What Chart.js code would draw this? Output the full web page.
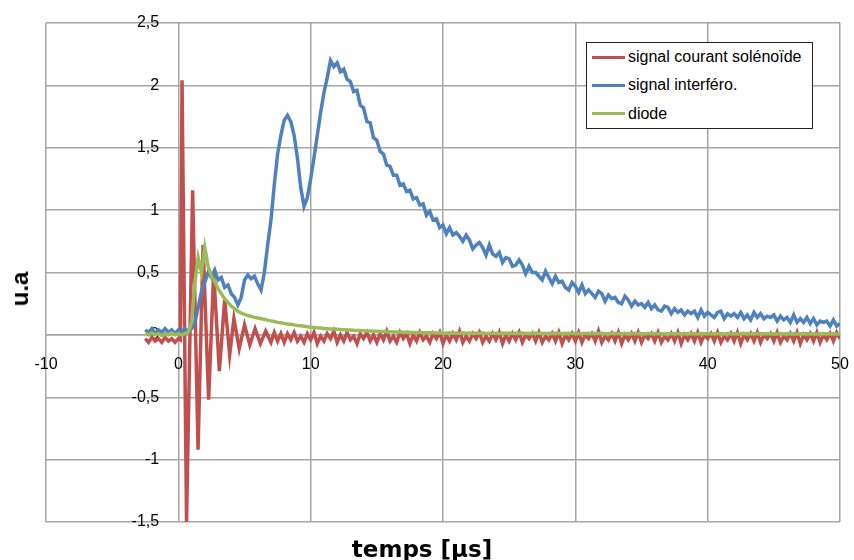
<!DOCTYPE html>
<html>
<head>
<meta charset="utf-8">
<script src="https://cdn.jsdelivr.net/npm/chart.js@4"></script>
<style>
  body { margin: 0; background: #fff; }
  #wrap { position: relative; width: 854px; height: 560px; font-family: "Liberation Sans", Arial, sans-serif; color: #000; }
  #legend { position: absolute; left: 586px; top: 42px; width: 227px; height: 87px; box-sizing: border-box;
            border: 1px solid #222; background: #fff; }
  .row { height: 28.3px; display: flex; align-items: center; font-size: 16px; white-space: nowrap; }
  .swatch { width: 33px; height: 3px; margin-left: 5px; margin-right: 3px; }
  #ytitle { position: absolute; left: 20px; top: 289px; transform: translate(-50%, -50%) rotate(-90deg);
            font-weight: bold; font-size: 24px; }
  #xtitle { position: absolute; left: 422px; top: 549px; transform: translate(-50%, -50%);
            font-family: "DejaVu Sans", sans-serif; font-weight: bold; font-size: 23px; white-space: nowrap; }
</style>
</head>
<body>
<div id="wrap">
  <canvas id="chart" width="854" height="560"></canvas>
  <div id="legend"></div>
  <div id="ytitle">u.a</div>
  <div id="xtitle">temps [μs]</div>
</div>
<script>
// séries (temps en µs, amplitude en u.a)
const seriesNames = ['signal courant solénoïde', 'signal interféro.', 'diode'];
const seriesColors = ['#C0504D', '#4F81BD', '#9BBB59'];

const xTicks = [-10, 0, 10, 20, 30, 40, 50];
const yTicks = [-1.5, -1, -0.5, 0, 0.5, 1, 1.5, 2, 2.5];

// échantillonnage : départ et pas (µs)
const gridStart = -2.5, gridStep = 0.25;
const redTailStart = 7.25;

// courant solénoïde : oscillation amortie au début
const redBurstT = [-2.5, -2.25, -2.0, -1.75, -1.5, -1.25, -1.0, -0.75, -0.5, -0.25, 0.0, 0.15,
  0.28, 0.62, 1.08, 1.49, 1.87, 2.29, 2.67, 3.1, 3.5, 3.88, 4.2, 4.6, 5.0, 5.4, 5.8, 6.2, 6.6, 7.0];
const redBurstV = [-0.03, -0.06, -0.02, -0.05, -0.03, -0.06, -0.02, -0.05, -0.03, -0.06, -0.03, -0.04,
  2.04, -1.5, 1.16, -0.92, 0.72, -0.52, 0.5, -0.29, 0.28, -0.16, 0.13, -0.11, 0.08, -0.08, 0.05, -0.07, 0.03, -0.06];
// puis bruit autour de zéro (pas 0.25 à partir de 7.25)
const redTailV = [
  0.02, -0.05, 0.01,
  -0.06, 0.01, -0.04, 0.02,   -0.05, -0.01, -0.06, 0.01,  -0.04, 0.02, -0.07, -0.01,  -0.05, 0.01, -0.03, 0.03,
  -0.06, 0.0, -0.05, 0.02,    -0.04, -0.01, -0.07, 0.01,  -0.03, 0.02, -0.05, 0.0,    -0.06, 0.01, -0.04, 0.03,
  -0.05, -0.01, -0.06, 0.02,  -0.03, 0.01, -0.07, 0.0,    -0.05, 0.02, -0.04, -0.01,  -0.06, 0.01, -0.03, 0.02,
  -0.07, 0.0, -0.05, 0.01,    -0.04, 0.03, -0.06, -0.01,  -0.05, 0.01, -0.03, 0.02,   -0.06, -0.01, -0.05, 0.01,
  -0.04, 0.02, -0.07, 0.0,    -0.05, 0.01, -0.04, 0.02,   -0.06, 0.0, -0.03, 0.01,    -0.05, 0.02, -0.06, -0.01,
  -0.04, 0.01, -0.05, 0.02,   -0.07, 0.0, -0.04, 0.01,    -0.05, 0.02, -0.06, 0.0,    -0.03, 0.01, -0.05, 0.03,
  -0.06, -0.01, -0.04, 0.01,  -0.05, 0.02, -0.07, 0.0,    -0.04, 0.01, -0.05, 0.02,   -0.06, 0.0, -0.03, 0.01,
  -0.05, 0.02, -0.06, -0.01,  -0.04, 0.01, -0.05, 0.02,   -0.07, 0.0, -0.04, 0.01,    -0.05, 0.02, -0.06, 0.0,
  -0.03, 0.01, -0.05, 0.02,   -0.06, -0.01, -0.04, 0.01,  -0.05, 0.02, -0.07, 0.0,    -0.04, 0.01, -0.05, 0.02,
  -0.06, 0.0, -0.03, 0.01,    -0.05, 0.02, -0.06, -0.01,  -0.04, 0.01, -0.05, 0.02,   -0.07, 0.0, -0.04, 0.01,
  -0.05, 0.02, -0.06, 0.0,    -0.04, 0.01, -0.05, 0.02,
  -0.03];

// interféromètre (pas 0.25 à partir de -2.5)
const blueV = [
  0.04, 0.02, 0.05, 0.01, 0.04, 0.02, 0.05, 0.02, 0.04, 0.01,
  0.04, 0.02, 0.05, 0.03,   0.05, 0.1, 0.22, 0.35,    0.42, 0.5, 0.46, 0.52,    0.44, 0.46, 0.38, 0.4,
  0.33, 0.3, 0.24, 0.3,     0.44, 0.48, 0.45, 0.47,   0.41, 0.36, 0.5, 0.72,    0.92, 1.2, 1.45, 1.6,
  1.72, 1.76, 1.71, 1.6,    1.42, 1.18, 1.03, 1.1,    1.25, 1.42, 1.6, 1.78,    1.94, 2.06, 2.2, 2.15,
  2.18, 2.11, 2.13, 2.05,   2.03, 1.95, 1.96, 1.84,   1.82, 1.71, 1.7, 1.58,    1.56, 1.47, 1.45, 1.36,
  1.35, 1.28, 1.28, 1.2,    1.21, 1.15, 1.16, 1.09,   1.1, 1.04, 1.05, 0.96,    0.99, 0.92, 0.93, 0.86,
  0.88, 0.81, 0.86, 0.8,    0.82, 0.79, 0.75, 0.8,    0.76, 0.69, 0.72, 0.74,   0.7, 0.64, 0.72, 0.65,
  0.63, 0.66, 0.58, 0.62,   0.61, 0.55, 0.56, 0.6,    0.56, 0.49, 0.55, 0.5,    0.5, 0.47, 0.44, 0.51,
  0.46, 0.41, 0.47, 0.42,   0.43, 0.38, 0.36, 0.42,   0.39, 0.34, 0.4, 0.33,    0.36, 0.33, 0.3, 0.35,
  0.33, 0.27, 0.32, 0.29,   0.3, 0.26, 0.25, 0.31,    0.28, 0.23, 0.27, 0.24,   0.25, 0.22, 0.26, 0.21,
  0.24, 0.2, 0.19, 0.23,    0.22, 0.17, 0.21, 0.18,   0.2, 0.16, 0.19, 0.17,    0.19, 0.14, 0.2, 0.15,
  0.18, 0.16, 0.14, 0.18,   0.19, 0.13, 0.17, 0.15,   0.17, 0.14, 0.18, 0.13,   0.16, 0.12, 0.18, 0.14,
  0.17, 0.13, 0.15, 0.14,   0.16, 0.11, 0.15, 0.12,   0.14, 0.1, 0.16, 0.1,     0.13, 0.1, 0.14, 0.09,
  0.13, 0.08, 0.11, 0.1,    0.11, 0.07, 0.12, 0.07,
  0.09];

// diode (pas 0.25 à partir de -2.5)
const diodeV = [
  0.01, 0.0, 0.015, 0.0, 0.01, -0.005, 0.01, 0.0, 0.015, 0.0,
  0.01, 0.0, 0.01, 0.02,        0.1, 0.42, 0.62, 0.5,         0.7, 0.55, 0.47, 0.43,        0.37, 0.33, 0.29, 0.26,
  0.23, 0.21, 0.19, 0.175,      0.165, 0.155, 0.148, 0.14,    0.135, 0.13, 0.125, 0.118,    0.112, 0.107, 0.1, 0.097,
  0.092, 0.088, 0.085, 0.08,    0.076, 0.073, 0.069, 0.066,   0.062, 0.06, 0.057, 0.055,    0.052, 0.05, 0.048, 0.047,
  0.045, 0.043, 0.042, 0.04,    0.039, 0.037, 0.036, 0.035,   0.034, 0.032, 0.031, 0.03,    0.029, 0.028, 0.027, 0.026,
  0.025, 0.024, 0.024, 0.023,   0.022, 0.021, 0.021, 0.02,    0.019, 0.02, 0.018, 0.018,    0.017, 0.018, 0.016, 0.017,
  0.015, 0.012, 0.017, 0.013,   0.014, 0.011, 0.016, 0.013,   0.015, 0.012, 0.014, 0.011,   0.016, 0.012, 0.014, 0.013,
  0.013, 0.01, 0.015, 0.012,    0.014, 0.011, 0.013, 0.012,   0.015, 0.011, 0.013, 0.01,    0.014, 0.012, 0.013, 0.011,
  0.013, 0.01, 0.014, 0.012,    0.012, 0.01, 0.013, 0.011,    0.013, 0.01, 0.012, 0.011,    0.012, 0.009, 0.013, 0.01,
  0.012, 0.01, 0.011, 0.009,    0.012, 0.01, 0.011, 0.01,     0.011, 0.009, 0.012, 0.01,    0.011, 0.008, 0.012, 0.01,
  0.011, 0.009, 0.01, 0.008,    0.011, 0.009, 0.01, 0.009,    0.01, 0.008, 0.011, 0.009,    0.01, 0.008, 0.011, 0.009,
  0.01, 0.008, 0.01, 0.009,     0.011, 0.008, 0.01, 0.008,    0.01, 0.008, 0.011, 0.009,    0.01, 0.007, 0.01, 0.008,
  0.01, 0.008, 0.01, 0.007,     0.009, 0.008, 0.01, 0.008,    0.01, 0.007, 0.009, 0.008,    0.009, 0.007, 0.01, 0.008,
  0.009, 0.007, 0.009, 0.008,   0.01, 0.007, 0.009, 0.008,
  0.008];

// position horizontale des étiquettes de l'axe vertical (en µs, juste à gauche de 0)
const yLabelAt = -1.45;

const onGrid = (start, vals) => vals.map((v, i) => ({ x: start + i * gridStep, y: v }));
const redPoints = redBurstT.map((t, i) => ({ x: t, y: redBurstV[i] })).concat(onGrid(redTailStart, redTailV));
const bluePoints = onGrid(gridStart, blueV);
const diodePoints = onGrid(gridStart, diodeV);

const gridColor = '#a6a6a6';
const tickFont = { family: '"Liberation Sans", Arial, sans-serif', size: 16 };
const comma = v => String(v).replace('.', ',');
const noPad = s => { s.paddingTop = s.paddingBottom = s.paddingLeft = s.paddingRight = 0; };

const allPoints = [redPoints, bluePoints, diodePoints];
const datasets = allPoints.map((pts, i) => ({
  label: seriesNames[i],
  data: pts,
  borderColor: seriesColors[i],
  backgroundColor: seriesColors[i],
  borderWidth: 3.5,
  pointRadius: 0,
  tension: 0,
  order: 3 - i
}));

// les axes se croisent en (0, 0), comme dans Excel
const chart = new Chart(document.getElementById('chart'), {
  type: 'line',
  data: { datasets },
  options: {
    responsive: false,
    animation: false,
    layout: { padding: { top: 23, right: 14, left: 46, bottom: 38 } },
    plugins: { legend: { display: false }, tooltip: { enabled: false } },
    scales: {
      x: {
        type: 'linear',
        position: { y: 0 },
        min: xTicks[0], max: xTicks[xTicks.length - 1],
        afterBuildTicks: s => { s.ticks = xTicks.map(v => ({ value: v })); },
        afterFit: s => { s.height = 0; noPad(s); },
        ticks: { color: '#000', font: tickFont, padding: 20, maxRotation: 0, autoSkip: false, callback: comma },
        grid: { color: gridColor, lineWidth: 1.5, drawTicks: false },
        border: { color: gridColor, width: 1.5 }
      },
      y: {
        position: { x: yLabelAt },
        min: yTicks[0], max: yTicks[yTicks.length - 1],
        afterBuildTicks: s => { s.ticks = yTicks.map(v => ({ value: v })); },
        afterFit: s => { s.width = 0; noPad(s); },
        ticks: { color: '#000', font: tickFont, padding: 0, autoSkip: false, callback: comma },
        grid: { color: gridColor, lineWidth: 1.5, drawTicks: false },
        border: { display: false }
      }
    }
  }
});

// légende encadrée en haut à droite
const legend = document.getElementById('legend');
chart.data.datasets.forEach(ds => {
  const row = document.createElement('div');
  row.className = 'row';
  row.innerHTML = `<span class="swatch" style="background:${ds.borderColor}"></span><span>${ds.label}</span>`;
  legend.appendChild(row);
});
</script>
</body>
</html>
